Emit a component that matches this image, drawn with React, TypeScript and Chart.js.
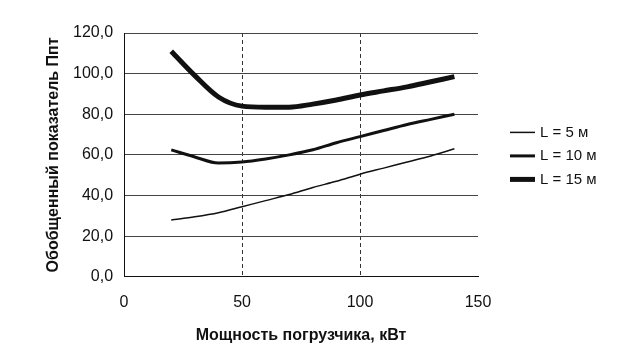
import React, { useEffect, useRef } from "react";
import { Chart, registerables } from "chart.js";

Chart.register(...registerables);

const xValues = [20, 30, 40, 50, 60, 70, 80, 90, 100, 110, 120, 130, 140];
const seriesL5 = [28, 29.5, 31.5, 34.5, 37.5, 40.5, 44, 47, 50.5, 53.5, 56.5, 59.5, 63];
const seriesL10 = [62.5, 59, 56, 56.5, 58, 60, 62.5, 66, 69, 72, 75, 77.5, 80];
const seriesL15 = [111, 99, 88.5, 84, 83.5, 83.5, 85, 87, 89.5, 91.5, 93.5, 96, 98.5];
const seriesLabels = ["L = 5 м", "L = 10 м", "L = 15 м"];
const seriesWidths = [1.5, 3, 5];
const xTitle = "Мощность погрузчика, кВт";
const yTitle = "Обобщенный показатель Ппт";

const FONT = "Liberation Sans, Arial, sans-serif";

const sideLegend = {
  id: "sideLegend",
  afterDraw(chart: any) {
    const { ctx, chartArea } = chart;
    const items = chart.data.datasets;
    const x0 = chartArea.right + 32;
    const lineLen = 25;
    const gap = 23.5;
    const cy = (chartArea.top + chartArea.bottom) / 2 + 1;
    ctx.save();
    ctx.font = `15px ${FONT}`;
    ctx.fillStyle = "#111";
    ctx.textBaseline = "middle";
    ctx.textAlign = "left";
    items.forEach((ds: any, i: number) => {
      const y = cy + (i - (items.length - 1) / 2) * gap;
      ctx.beginPath();
      ctx.strokeStyle = ds.borderColor;
      ctx.lineWidth = ds.borderWidth;
      ctx.moveTo(x0, y);
      ctx.lineTo(x0 + lineLen, y);
      ctx.stroke();
      ctx.fillText(ds.label, x0 + lineLen + 5, y);
    });
    ctx.restore();
  },
};

export default function App() {
  const ref = useRef<HTMLCanvasElement | null>(null);
  useEffect(() => {
    if (!ref.current) return;
    const all = [seriesL5, seriesL10, seriesL15];
    const chart = new Chart(ref.current, {
      type: "line",
      data: {
        datasets: all.map((s, i) => ({
          label: seriesLabels[i],
          data: s.map((y, j) => ({ x: xValues[j], y })),
          borderColor: "#111",
          backgroundColor: "#111",
          borderWidth: seriesWidths[i],
          pointRadius: 0,
          tension: 0.4,
          cubicInterpolationMode: "monotone",
          fill: false,
        })),
      },
      plugins: [sideLegend],
      options: {
        animation: false,
        responsive: false,
        layout: { padding: { left: 46, right: 142, top: 33, bottom: 9 } },
        plugins: {
          tooltip: { enabled: false },
          legend: { display: false },
        },
        scales: {
          x: {
            type: "linear",
            min: 0,
            max: 150,
            ticks: {
              stepSize: 50,
              color: "#111",
              padding: 16,
              font: { family: FONT, size: 16 },
            },
            grid: {
              drawTicks: false,
              color: (ctx: any) =>
                ctx.tick && (ctx.tick.value === 50 || ctx.tick.value === 100) ? "#333" : "rgba(0,0,0,0)",
              lineWidth: 1,
            },
            border: { display: true, color: "#111", width: 1, dash: [4, 3] },
            title: {
              display: true,
              text: xTitle,
              color: "#111",
              font: { family: FONT, size: 16, weight: "bold", lineHeight: 1 },
              padding: { top: 0, bottom: 0 },
            },
          },
          y: {
            min: 0,
            max: 120,
            ticks: {
              stepSize: 20,
              color: "#111",
              padding: 11,
              font: { family: FONT, size: 16 },
              callback: (v: any) => Number(v).toFixed(1).replace(".", ","),
            },
            grid: { drawTicks: false, color: "#444", lineWidth: 1 },
            border: { display: true, color: "#111", width: 1 },
            title: {
              display: true,
              text: yTitle,
              color: "#111",
              font: { family: FONT, size: 16, weight: "bold", lineHeight: 1 },
              padding: { top: 0, bottom: 0 },
            },
          },
        },
      },
    });
    return () => chart.destroy();
  }, []);
  return (
    <div style={{ position: "fixed", left: 0, top: 0, width: 620, height: 353, background: "#fff" }}>
      <canvas ref={ref} width={620} height={353} style={{ width: 620, height: 353 }} />
    </div>
  );
}
